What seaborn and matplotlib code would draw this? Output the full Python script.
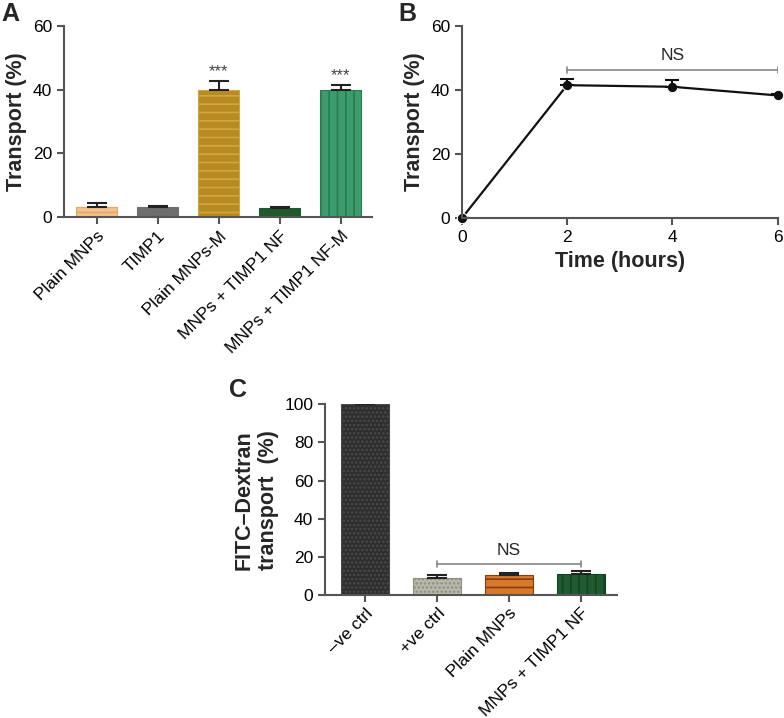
import numpy as np
import pandas as pd
import matplotlib.pyplot as plt
import seaborn as sns

sns.set_theme(style="ticks")
plt.rcParams['font.family'] = ['Liberation Sans', 'DejaVu Sans']
plt.rcParams['hatch.linewidth'] = 1.2

# Panel A data
a_groups = ['Plain MNPs', 'TIMP1', 'Plain MNPs-M', 'MNPs + TIMP1 NF', 'MNPs + TIMP1 NF-M']
a_values = [3.0, 3.0, 40.0, 2.8, 39.7]
a_errors = [1.5, 0.5, 2.7, 0.4, 1.8]
a_colors = ['#F3C28C', '#6E6E6E', '#B88A22', '#1E5A2C', '#3C9C6C']
a_hatch = ['--', '', '--', '', '||']
a_hatchcol = ['#E3A866', '#6E6E6E', '#D0A640', '#1E5A2C', '#2A7A52']

# Panel B data
b_time = [0, 2, 4, 6]
b_values = [0.0, 41.5, 41.0, 38.3]
b_errors = [0.0, 2.0, 2.0, 0.5]

# Panel C data
c_groups = ['–ve ctrl', '+ve ctrl', 'Plain MNPs', 'MNPs + TIMP1 NF']
c_values = [100.0, 9.0, 10.5, 11.0]
c_errors = [0.0, 1.5, 1.0, 1.5]
c_colors = ['#2E2E2E', '#B9B9AA', '#D8782A', '#1E5C30']
c_hatch = ['....', '....', '--', '||']
c_hatchcol = ['#4A4A4A', '#8E8E80', '#8A3E10', '#144222']

spine_col = '#555555'
tick_fs = 12.5
label_fs = 15.5

fig = plt.figure(figsize=(7.84, 7.18), dpi=100)
axA = fig.add_axes([0.0816, 0.698, 0.3924, 0.266])
axB = fig.add_axes([0.589, 0.696, 0.403, 0.268])
axC = fig.add_axes([0.4145, 0.171, 0.3725, 0.266])


def style_axis(ax):
    sns.despine(ax=ax)
    for s in ['left', 'bottom']:
        ax.spines[s].set_color(spine_col)
        ax.spines[s].set_linewidth(1.5)
    ax.tick_params(colors=spine_col, labelcolor='black', width=1.5, length=5,
                   labelsize=tick_fs)


def bars(ax, groups, values, errors, colors, hatches, hcols):
    df = pd.DataFrame({'group': groups, 'value': values})
    sns.barplot(data=df, x='group', y='value', hue='group', palette=colors,
                legend=False, width=0.67, ax=ax, saturation=1)
    for p, h, hc in zip(ax.patches, hatches, hcols):
        p.set_hatch(h)
        p.set_edgecolor(hc)
        p.set_linewidth(0.8)
    x = np.arange(len(groups))
    errs = np.array(errors)
    ax.errorbar(x, values, yerr=[np.zeros_like(errs), errs], fmt='none',
                ecolor='#222222', elinewidth=1.5, capsize=7, capthick=1.5)


def bracket(ax, x0, x1, y, tick, text, ty):
    ax.plot([x0, x1], [y, y], color='#888888', lw=1.2)
    ax.plot([x0, x0], [y - tick, y + tick], color='#888888', lw=1.2)
    ax.plot([x1, x1], [y - tick, y + tick], color='#888888', lw=1.2)
    ax.text((x0 + x1) / 2, ty, text, ha='center', va='bottom', fontsize=12.5)


# Panel A
bars(axA, a_groups, a_values, a_errors, a_colors, a_hatch, a_hatchcol)
axA.set_xlim(-0.54, 4.51)
axA.set_ylim(0, 60)
axA.set_yticks([0, 20, 40, 60])
axA.set_xlabel('')
axA.set_ylabel('Transport (%)', fontsize=label_fs, fontweight='bold')
style_axis(axA)
axA.set_xticks(range(len(a_groups)))
axA.set_xticklabels(a_groups, rotation=45, ha='right', rotation_mode='anchor')
for i in [2, 4]:
    axA.text(i, a_values[i] + a_errors[i] + 0.6, '***', ha='center', va='bottom',
             fontsize=12, color='#444444')

# Panel B
dfB = pd.DataFrame({'time': b_time, 'value': b_values})
sns.lineplot(data=dfB, x='time', y='value', marker='o', color='#111111',
             markersize=7.5, linewidth=1.6, ax=axB, clip_on=False)
bE = np.array(b_errors)
axB.errorbar(b_time, b_values, yerr=[np.zeros_like(bE), bE], fmt='none',
             ecolor='#111111', elinewidth=1.5, capsize=5, capthick=1.5)
axB.set_xlim(0, 6)
axB.set_ylim(0, 60)
axB.set_xticks([0, 2, 4, 6])
axB.set_yticks([0, 20, 40, 60])
axB.set_xlabel('Time (hours)', fontsize=label_fs, fontweight='bold')
axB.set_ylabel('Transport (%)', fontsize=label_fs, fontweight='bold')
style_axis(axB)
bracket(axB, 2, 6, 46.3, 1.0, 'NS', 48.5)

# Panel C
bars(axC, c_groups, c_values, c_errors, c_colors, c_hatch, c_hatchcol)
axC.set_xlim(-0.56, 3.5)
axC.set_ylim(0, 100)
axC.set_yticks([0, 20, 40, 60, 80, 100])
axC.set_xlabel('')
axC.set_ylabel('FITC–Dextran\ntransport  (%)', fontsize=label_fs, fontweight='bold')
style_axis(axC)
axC.tick_params(axis='x', pad=2.5)
axC.set_xticks(range(len(c_groups)))
axC.set_xticklabels(c_groups, rotation=45, ha='right', rotation_mode='anchor')
bracket(axC, 1, 3, 16.2, 1.5, 'NS', 19.5)

# Panel letters
fig.text(0.002, 0.997, 'A', fontsize=18, fontweight='bold', va='top')
fig.text(0.508, 0.997, 'B', fontsize=18, fontweight='bold', va='top')
fig.text(0.292, 0.474, 'C', fontsize=18, fontweight='bold', va='top')

fig.savefig('out.png', dpi=100)
